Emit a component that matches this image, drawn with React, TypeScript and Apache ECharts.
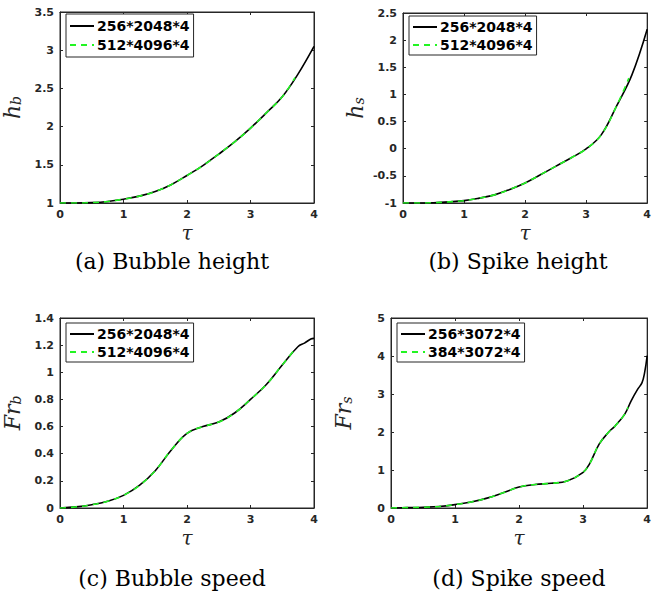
import React, { useEffect, useRef } from "react";
import * as echarts from "echarts";

// ---- data ----
const tauStd = [0, 0.25, 0.5, 0.75, 1, 1.25, 1.5, 1.75, 2, 2.25, 2.5, 2.75, 3, 3.25, 3.5, 3.75, 4];
const tauStdFine = [0, 0.25, 0.5, 0.75, 1, 1.25, 1.5, 1.75, 2, 2.25, 2.5, 2.75, 3, 3.25, 3.5, 3.7];

const hbCoarse = [1.0, 1.0, 1.005, 1.02, 1.05, 1.09, 1.15, 1.24, 1.36, 1.49, 1.64, 1.8, 1.98, 2.18, 2.39, 2.69, 3.05];
const hbFine = [1.0, 1.0, 1.005, 1.02, 1.05, 1.09, 1.15, 1.24, 1.36, 1.49, 1.64, 1.8, 1.98, 2.18, 2.39, 2.64];

const hsCoarse = [-1, -1, -0.995, -0.98, -0.957, -0.91, -0.85, -0.75, -0.63, -0.48, -0.325, -0.17, -0.005, 0.26, 0.79, 1.36, 2.2];
const hsFine = [-1, -1, -0.995, -0.98, -0.957, -0.91, -0.85, -0.75, -0.63, -0.48, -0.325, -0.17, -0.005, 0.26, 0.79, 1.3];

const tauC = [0, 0.25, 0.5, 0.75, 1, 1.25, 1.5, 1.75, 2, 2.25, 2.5, 2.75, 3, 3.25, 3.5, 3.75, 3.85, 3.95, 4];
const tauCFine = [0, 0.25, 0.5, 0.75, 1, 1.25, 1.5, 1.75, 2, 2.25, 2.5, 2.75, 3, 3.25, 3.5, 3.7];
const frbCoarse = [0, 0.008, 0.024, 0.05, 0.093, 0.166, 0.275, 0.426, 0.55, 0.6, 0.633, 0.7, 0.8, 0.91, 1.054, 1.19, 1.215, 1.245, 1.25];
const frbFine = [0, 0.008, 0.024, 0.05, 0.093, 0.166, 0.275, 0.426, 0.55, 0.6, 0.633, 0.7, 0.8, 0.91, 1.054, 1.17];

const tauD = [0, 0.25, 0.5, 0.75, 1, 1.25, 1.5, 1.75, 2, 2.25, 2.5, 2.75, 3, 3.1, 3.25, 3.4, 3.5, 3.65, 3.75, 3.85, 3.92, 3.96, 4];
const tauDFine = [0, 0.25, 0.5, 0.75, 1, 1.25, 1.5, 1.75, 2, 2.25, 2.5, 2.75, 3, 3.1, 3.25, 3.4, 3.5, 3.65, 3.7];
const frsCoarse = [0, 0.01, 0.02, 0.04, 0.09, 0.16, 0.26, 0.4, 0.55, 0.62, 0.65, 0.71, 0.94, 1.16, 1.68, 2.0, 2.16, 2.47, 2.82, 3.12, 3.3, 3.56, 4.01];
const frsFine = [0, 0.01, 0.02, 0.04, 0.09, 0.16, 0.26, 0.4, 0.55, 0.62, 0.65, 0.71, 0.94, 1.16, 1.68, 2.0, 2.16, 2.47, 2.65];

const legendA = ["256*2048*4", "512*4096*4"];
const legendD = ["256*3072*4", "384*3072*4"];
const captions = ["(a) Bubble height", "(b) Spike height", "(c) Bubble speed", "(d) Spike speed"];

const AX = "#262626";
const GREEN = "#22f522";

const zip = (xs: number[], ys: number[]) => ys.map((y, i) => [xs[i], y]);

export default function App() {
  const ref = useRef<HTMLDivElement>(null);
  useEffect(() => {
    document.body.style.margin = "0";
    const chart = echarts.init(ref.current!, undefined, { renderer: "svg" });

    const grids = [
      { left: 59, top: 12, width: 255, height: 191 },
      { left: 403, top: 13, width: 249, height: 190 },
      { left: 59, top: 318, width: 255, height: 190 },
      { left: 391, top: 318, width: 261, height: 190 },
    ];
    const yCfg = [
      { min: 1, max: 3.5, interval: 0.5, name: "{i|h}{s|b}" },
      { min: -1, max: 2.5, interval: 0.5, name: "{i|h}{s|s}" },
      { min: 0, max: 1.4, interval: 0.2, name: "{i|Fr}{s|b}" },
      { min: 0, max: 5, interval: 1, name: "{i|Fr}{s|s}" },
    ];
    const tickLabel = { color: AX, fontFamily: "DejaVu Sans", fontWeight: "bold", fontSize: 11 };
    const line = { show: true, onZero: false, lineStyle: { color: AX, width: 1 } };
    const tick = { show: true, inside: true, length: 3, lineStyle: { color: AX } };

    const xAxis: any[] = [];
    const yAxis: any[] = [];
    grids.forEach((g, i) => {
      xAxis.push({
        type: "value", gridIndex: i, min: 0, max: 4, interval: 1, position: "bottom",
        axisLine: line, axisTick: tick,
        axisLabel: { ...tickLabel, margin: 6 },
        splitLine: { show: false },
        name: "τ", nameLocation: "middle", nameGap: 22,
        nameTextStyle: { fontFamily: "DejaVu Serif", fontStyle: "italic", fontSize: 20, color: AX, verticalAlign: "top", lineHeight: 16 },
      });
      xAxis.push({
        type: "value", gridIndex: i, min: 0, max: 4, interval: 1, position: "top",
        axisLine: line, axisTick: tick,
        axisLabel: { show: false }, splitLine: { show: false },
      });
      yAxis.push({
        type: "value", gridIndex: i, min: yCfg[i].min, max: yCfg[i].max, interval: yCfg[i].interval, position: "left",
        axisLine: line, axisTick: tick,
        axisLabel: { ...tickLabel, margin: 6 },
        splitLine: { show: false },
        name: yCfg[i].name, nameLocation: "middle", nameGap: 37, nameRotate: 90,
        nameTextStyle: {
          color: AX,
          rich: {
            i: { fontFamily: "DejaVu Serif", fontStyle: "italic", fontSize: 22, color: AX },
            s: { fontFamily: "DejaVu Serif", fontStyle: "italic", fontSize: 14, color: AX, verticalAlign: "bottom", padding: [8, 0, 0, 0] },
          },
        },
      });
      yAxis.push({
        type: "value", gridIndex: i, min: yCfg[i].min, max: yCfg[i].max, interval: yCfg[i].interval, position: "right",
        axisLine: line, axisTick: tick,
        axisLabel: { show: false }, splitLine: { show: false },
      });
    });

    const coarse = [zip(tauStd, hbCoarse), zip(tauStd, hsCoarse), zip(tauC, frbCoarse), zip(tauD, frsCoarse)];
    const fine = [zip(tauStdFine, hbFine), zip(tauStdFine, hsFine), zip(tauCFine, frbFine), zip(tauDFine, frsFine)];
    const names = [legendA, legendA, legendA, legendD];

    const series: any[] = [];
    grids.forEach((_, i) => {
      series.push({
        type: "line", name: names[i][0], xAxisIndex: 2 * i, yAxisIndex: 2 * i,
        data: coarse[i], showSymbol: false, symbol: "none", smooth: 0.4,
        lineStyle: { color: "#000", width: 1.6, type: "solid" }, itemStyle: { color: "#000" }, z: 2,
      });
      series.push({
        type: "line", name: names[i][1], xAxisIndex: 2 * i, yAxisIndex: 2 * i,
        data: fine[i], showSymbol: false, symbol: "none", smooth: 0.4,
        lineStyle: { color: GREEN, width: 1.6, type: [6, 5] }, itemStyle: { color: GREEN }, z: 3,
      });
      // invisible series to bind the top / right axes so they render
      series.push({
        type: "line", xAxisIndex: 2 * i + 1, yAxisIndex: 2 * i + 1,
        data: [], showSymbol: false, symbol: "none", silent: true,
      });
    });

    const legendPos = [
      { left: 66, top: 14 },
      { left: 409, top: 16 },
      { left: 66, top: 323 },
      { left: 397, top: 323 },
    ];
    const legend = legendPos.map((p, i) => ({
      ...p,
      orient: "vertical",
      data: names[i],
      borderColor: AX, borderWidth: 1, backgroundColor: "#fff",
      padding: i === 0 ? [5, 4, 5, 3] : [4, 4, 3, 3], itemGap: i === 0 ? 5 : 4, itemWidth: 24, itemHeight: 12,
      selectedMode: false,
      itemStyle: { opacity: 0 },
      textStyle: { fontFamily: "DejaVu Sans", fontWeight: "bold", fontSize: 14, color: "#000", padding: [0, 0, 0, -2] },
    }));

    const capPos = [
      [172, 261], [518, 261], [172, 578], [519, 578],
    ];
    const graphic = captions.map((c, i) => ({
      type: "text", x: capPos[i][0], y: capPos[i][1],
      style: { text: c, fontFamily: "DejaVu Serif", fontSize: 22, fill: "#000", textAlign: "center", textVerticalAlign: "middle" },
    }));

    chart.setOption({
      animation: false,
      backgroundColor: "#fff",
      grid: grids.map((g) => ({ ...g, show: true, borderColor: AX, borderWidth: 1, backgroundColor: "transparent" })),
      xAxis, yAxis, series, legend, graphic,
    });
    return () => chart.dispose();
  }, []);
  return <div ref={ref} style={{ width: 654, height: 594, position: "absolute", left: 0, top: 0 }} />;
}
